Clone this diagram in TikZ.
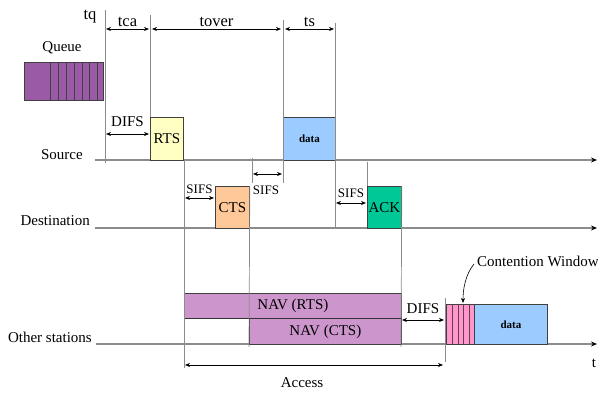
\documentclass[tikz,border=0pt]{standalone}
\usepackage{fontspec}
\setmainfont{Liberation Serif}
\usepackage{tikz}
\usetikzlibrary{arrows.meta, positioning}
\definecolor{queuepurple}{HTML}{9A5AA6}
\definecolor{rtsyellow}{HTML}{FFFFC4}
\definecolor{ctspeach}{HTML}{FFC898}
\definecolor{ackgreen}{HTML}{00C896}
\definecolor{datablue}{HTML}{9CCCFF}
\definecolor{navpink}{HTML}{CC96CC}
\definecolor{cwpink}{HTML}{FF96CC}
\definecolor{guide}{HTML}{8C8C8C}

\begin{document}
\begin{tikzpicture}[x=1pt, y=-1pt,
  frame/.style={rectangle, draw=black!75, line width=0.8pt, inner sep=0pt,
                anchor=north west, font=\fontsize{15}{17}\selectfont},
  rts/.style={frame, fill=rtsyellow},
  cts/.style={frame, fill=ctspeach},
  ack/.style={frame, fill=ackgreen},
  datapkt/.style={frame, fill=datablue, font=\fontsize{11}{13}\selectfont\bfseries},
  nav/.style={frame, fill=navpink},
  label/.style={font=\fontsize{15}{17}\selectfont, inner sep=1pt},
  toplabel/.style={font=\fontsize{16.5}{18}\selectfont, inner sep=1pt},
  small/.style={font=\fontsize{13}{15}\selectfont, inner sep=1pt},
  station/.style={label, anchor=east},
  timeline/.style={guide, line width=1.2pt, -{Stealth[length=6pt, width=5pt, black]}},
  marker/.style={guide, line width=0.7pt},
  span/.style={{Stealth[length=5pt, width=4pt]}-{Stealth[length=5pt, width=4pt]}, line width=0.7pt},
]
\useasboundingbox (0,0) rectangle (598,395);

% time lines
\coordinate (srcA) at (95,160);   \coordinate (srcB) at (597,160);
\coordinate (dstA) at (95,228);   \coordinate (dstB) at (597,228);
\coordinate (othA) at (96,344);   \coordinate (othB) at (597,344);
\draw[timeline] (srcA) -- (srcB);
\draw[timeline] (dstA) -- (dstB);
\draw[timeline] (othA) -- (othB);

\node[station] (source) at (84,155) {Source};
\node[station] (destination) at (91,221) {Destination};
\node[station] (others) at (93,337) {Other stations};
\node[label] (tlabel) at (594,363) {t};

% frames
\node[frame, fill=queuepurple, minimum width=79pt, minimum height=38pt] (queue) at (24,62) {};
\foreach \x in {50,58,66,74,82,89,97}
  \draw[black!75, line width=0.8pt] (\x,62) -- (\x,100);
\node[label] (queuelabel) at (62,48) {Queue};

\node[rts, minimum width=33pt, minimum height=43pt] (rtsbox) at (150,117) {RTS};
\node[datapkt, minimum width=52pt, minimum height=43pt] (data1) at (283,117) {data};
\node[cts, minimum width=34pt, minimum height=42pt] (ctsbox) at (215,186) {CTS};
\node[ack, minimum width=34pt, minimum height=42pt] (ackbox) at (367,186) {ACK};
\node[nav, minimum width=217pt, minimum height=25pt] (navrts) at (184,293) {NAV (RTS)};
\node[nav, minimum width=152pt, minimum height=26pt] (navcts) at (249,318) {NAV (CTS)};
\node[frame, fill=cwpink, minimum width=28pt, minimum height=40pt] (cw) at (446,304) {};
\foreach \x in {452,458,463,469}
  \draw[black!60!cwpink, line width=0.7pt] (\x,304) -- (\x,344);
\node[datapkt, minimum width=73pt, minimum height=40pt] (data2) at (474,304) {data};
\draw[black!80, line width=1.2pt] (navrts.south west) -- (navrts.south east);

% guide marks
\draw[marker] (105,10) -- (105,163);
\draw[marker] (150,15) -- (rtsbox.north west);
\draw[marker] (184,160) -- (184,368);
\draw[marker] (ctsbox.north east) -- (249,347);
\draw[marker] (252,158) -- (252,183);
\draw[marker] (283,20) -- (283,183);
\draw[marker] (335,23) -- (335,228);
\draw[marker] (367,162) -- (ackbox.north west);
\draw[marker] (ackbox.north east) -- (401,347);
\draw[marker] (445,298) -- (445,362);

% spans
\draw[span] (106,29) -- node[toplabel, above=1pt] {tca} (149,29);
\draw[span] (152,29) -- node[toplabel, above=1pt] {tover} (281,29);
\draw[span] (285,29) -- node[toplabel, above=1pt] {ts} (334,29);
\node[toplabel] (tq) at (90,17) {tq};
\draw[span] (106,134) -- node[label, above=6pt] {DIFS} (149,134);
\draw[span] (185,198) -- node[small, above=3pt] {SIFS} (214,198);
\draw[span] (253,174) -- (282,174);
\node[small] (sifs2) at (266,190) {SIFS};
\draw[span] (336,203) -- node[small, above=4pt] {SIFS} (366,203);
\draw[span] (402,320) -- node[label, above=5pt] {DIFS} (444,320);
\draw[span] (185,365) -- (443,365);
\node[label] (access) at (302,383) {Access};

\node[label, anchor=west] (cwlabel) at (476,261) {Contention Window};
\draw[-{Stealth[length=5pt, width=4pt]}, line width=0.6pt] (cwlabel.west) ++(-2,3)
  .. controls (465,275) and (463,290) .. (463,303);
\end{tikzpicture}
\end{document}
